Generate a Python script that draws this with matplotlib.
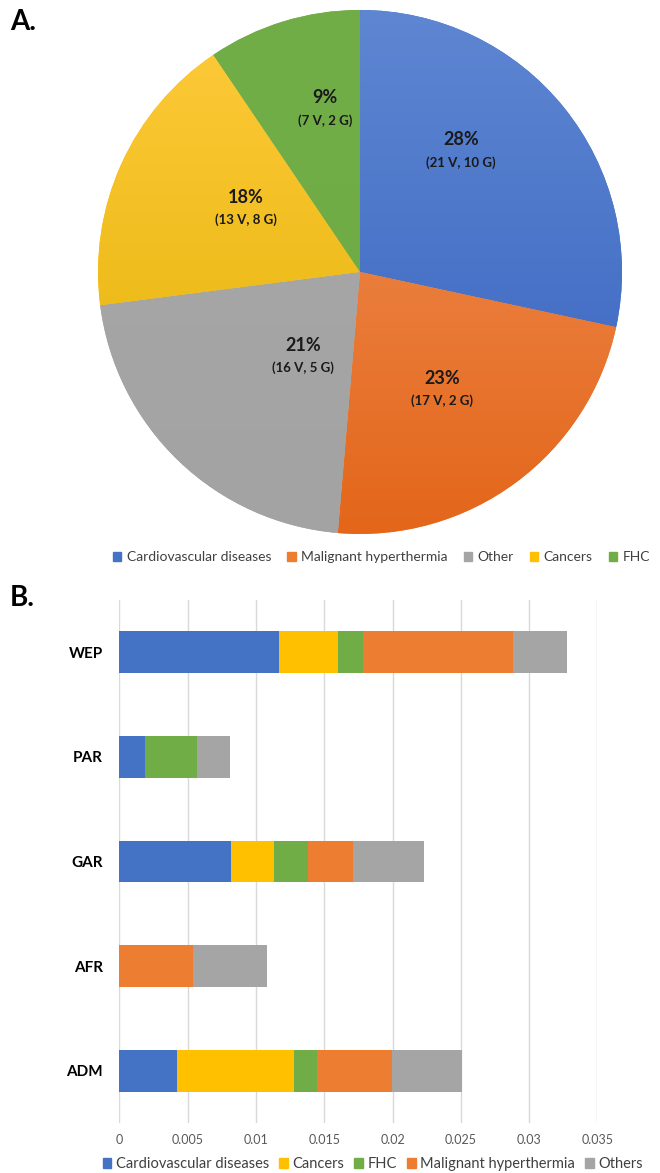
import numpy as np
import matplotlib
matplotlib.use("Agg")
import matplotlib.pyplot as plt
from matplotlib.colors import LinearSegmentedColormap
from matplotlib.patches import Patch

plt.rcParams['font.family'] = ['Lato', 'DejaVu Sans']

# ---- panel A data ----
pie_labels = ['Cardiovascular diseases', 'Malignant hyperthermia', 'Other', 'Cancers', 'FHC']
pie_variants = [21, 17, 16, 13, 7]
pie_genes = [10, 2, 5, 8, 2]
pie_pct = ['28%', '23%', '21%', '18%', '9%']

# ---- panel B data ----
populations = ['WEP', 'PAR', 'GAR', 'AFR', 'ADM']
cardio = [0.0117, 0.0019, 0.0082, 0.0, 0.00425]
cancers = [0.0043, 0.0, 0.0031, 0.0, 0.0085]
fhc = [0.0018, 0.0038, 0.0025, 0.0, 0.0017]
malignant = [0.0110, 0.0, 0.0033, 0.0054, 0.0055]
others = [0.0040, 0.0024, 0.0052, 0.0054, 0.0051]
bar_series = ['Cardiovascular diseases', 'Cancers', 'FHC', 'Malignant hyperthermia', 'Others']
xticks = [0, 0.005, 0.01, 0.015, 0.02, 0.025, 0.03, 0.035]

# colours (office palette)
c_blue = '#4472C4'
c_orange = '#ED7D31'
c_gray = '#A5A5A5'
c_yellow = '#FFC000'
c_green = '#70AD47'

pie_colors = [c_blue, c_orange, c_gray, c_yellow, c_green]
# top/bottom gradient shades for the pie wedges
pie_grad = [('#5E86D2', '#3562BE'), ('#F2955E', '#E3661A'), ('#A8A8A8', '#A3A3A3'),
            ('#FFCB3C', '#E0B000'), ('#72AE48', '#6FAB45')]
label_pos = [(0.385, 0.462), (0.313, -0.447), (-0.218, -0.321), (-0.435, 0.244), (-0.134, 0.622)]

fig = plt.figure(figsize=(6.6, 11.73), dpi=100)

# ---------------- A. pie ----------------
ax1 = fig.add_axes([0.1485, 0.5448, 0.794, 0.4467])
wedges, _ = ax1.pie(pie_variants, colors=pie_colors, startangle=90, counterclock=False,
                    radius=1, wedgeprops=dict(linewidth=0))
grad = np.linspace(0, 1, 256).reshape(-1, 1)
for w, (top, bot) in zip(wedges, pie_grad):
    cmap = LinearSegmentedColormap.from_list('g', [top, bot])
    im = ax1.imshow(grad, cmap=cmap, extent=[-1, 1, -1, 1], aspect='auto', zorder=2)
    im.set_clip_path(w)
for (x, y), pct, v, g in zip(label_pos, pie_pct, pie_variants, pie_genes):
    ax1.text(x, y + 0.042, pct, ha='center', va='center', fontsize=13, fontweight='bold',
             color='#1a1a1a', zorder=3)
    ax1.text(x, y - 0.045, f'({v} V, {g} G)', ha='center', va='center', fontsize=9.5,
             fontweight='bold', color='#1a1a1a', zorder=3)
ax1.set_xlim(-1, 1)
ax1.set_ylim(-1, 1)
ax1.set_aspect('equal')
ax1.axis('off')

handles_a = [Patch(color=c, label=l) for c, l in zip(pie_colors, pie_labels)]
fig.legend(handles=handles_a, loc='center', bbox_to_anchor=(0.578, 0.525), ncol=5,
           frameon=False, fontsize=10, handlelength=0.6, handleheight=0.6,
           handletextpad=0.4, columnspacing=1.15, labelcolor='#404040')

fig.text(0.015, 0.981, 'A.', fontsize=20, fontweight='bold', va='center', ha='left')

# ---------------- B. stacked bars ----------------
ax2 = fig.add_axes([0.1808, 0.0426, 0.7245, 0.4459])
y = np.arange(len(populations))
series = [cardio, cancers, fhc, malignant, others]
series_colors = [c_blue, c_yellow, c_green, c_orange, c_gray]
left = np.zeros(len(populations))
for vals, col, lab in zip(series, series_colors, bar_series):
    ax2.barh(y, vals, left=left, height=0.4, color=col, label=lab, zorder=3)
    left += np.array(vals)

ax2.set_ylim(len(populations) - 0.5, -0.5)
ax2.set_xlim(0, 0.035)
ax2.set_xticks(xticks)
ax2.set_xticklabels([f'{t:g}' for t in xticks], fontsize=9, color='#595959')
ax2.set_yticks(y)
ax2.set_yticklabels(populations, fontsize=11, fontweight='bold')
ax2.tick_params(length=0, pad=12, axis='y')
ax2.tick_params(length=0, pad=8, axis='x')
ax2.xaxis.grid(True, color='#D9D9D9', linewidth=1, zorder=0)
for s in ax2.spines.values():
    s.set_visible(False)

fig.legend(handles=[Patch(color=c, label=l) for c, l in zip(series_colors, bar_series)],
           loc='center', bbox_to_anchor=(0.565, 0.0075), ncol=5, frameon=False,
           fontsize=10.5, handlelength=0.6, handleheight=0.6, handletextpad=0.3,
           columnspacing=0.7, labelcolor='#404040')

fig.text(0.015, 0.49, 'B.', fontsize=20, fontweight='bold', va='center', ha='left')

fig.savefig('out.png', dpi=100)
